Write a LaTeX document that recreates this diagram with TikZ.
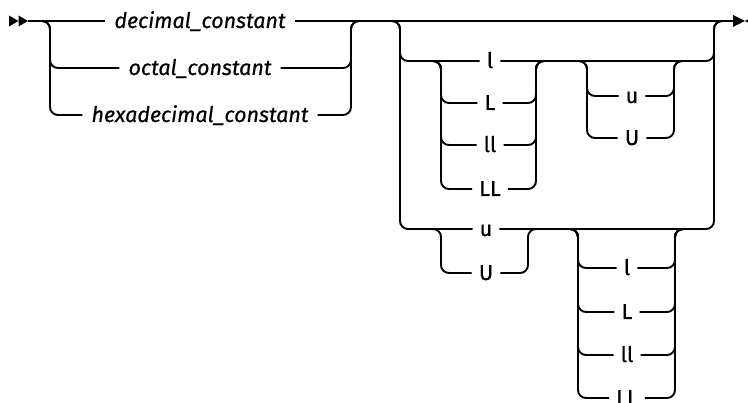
\documentclass[tikz,border=0pt]{standalone}
\usepackage{fontspec}
\setmainfont{Fira Sans}[FakeBold=0.6]
\begin{document}
\begin{tikzpicture}[x=1pt,y=-1pt,
  rail/.style={line width=1.9pt, rounded corners=8pt},
  lbl/.style={font=\fontsize{21.5}{25}\selectfont, inner xsep=7pt, inner ysep=0pt, text height=14pt, text depth=0pt},
  ilbl/.style={lbl, font=\fontsize{21.5}{25}\selectfont\itshape, inner xsep=9pt}]
\clip (0,0) rectangle (748,403);
% start and end markers
\fill (9,15.5) -- (18.5,21) -- (9,26.5) -- cycle;
\fill (18.5,15.5) -- (28,21) -- (18.5,26.5) -- cycle;
\fill (733,15) -- (745,21) -- (733,27) -- cycle;
\fill (756,15) -- (745,21) -- (756,27) -- cycle;
\coordinate (start) at (28,21);
\coordinate (end) at (733,21);
% junctions
\coordinate (aL) at (50,21);  \coordinate (aR) at (351,21);
\coordinate (bL) at (400,21); \coordinate (bR) at (714,21);
\coordinate (cL) at (441,61); \coordinate (cR) at (536,61);
\coordinate (dL) at (587,61); \coordinate (dR) at (674,61);
\coordinate (eL) at (441,229); \coordinate (eR) at (528,229);
\coordinate (fL) at (578,229); \coordinate (fR) at (675,229);
% labels
\node[ilbl] (dec) at (200,21) {decimal\_constant\hspace{7pt}};
\node[ilbl] (oct) at (200,68) {octal\_constant\hspace{7pt}};
\node[ilbl] (hex) at (200,115) {hexadecimal\_constant\hspace{7pt}};
\node[lbl] (l1) at (490,61) {l};
\node[lbl] (L1) at (490,103) {L};
\node[lbl] (ll1) at (490,145) {ll};
\node[lbl] (LL1) at (490,189) {LL};
\node[lbl] (u1) at (632,96) {u};
\node[lbl] (U1) at (632,138) {U};
\node[lbl] (u2) at (486,229) {u};
\node[lbl] (U2) at (486,273) {U};
\node[lbl] (l2) at (627,268) {l};
\node[lbl] (L2) at (627,312) {L};
\node[lbl] (ll2) at (627,355) {ll};
\node[lbl] (LL2) at (627,398) {LL};
% main line
\draw[rail] (start) -- (dec.west);
\draw[rail] (dec.east) -- (end);
% group A
\foreach \n in {oct,hex}{
  \draw[rail] ([xshift=-8pt]aL) -- (aL) |- (\n.west);
  \draw[rail] (\n.east) -| (aR) -- ([xshift=8pt]aR);
}
% outer group
\foreach \n in {l1,u2}{
  \draw[rail] ([xshift=-8pt]bL) -- (bL) |- (\n.west);
  \draw[rail] (\n.east) -| (bR) -- ([xshift=8pt]bR);
}
% l group 1
\foreach \n in {L1,ll1,LL1}{
  \draw[rail] ([xshift=-8pt]cL) -- (cL) |- (\n.west);
  \draw[rail] (\n.east) -| (cR) -- ([xshift=8pt]cR);
}
% u group 1
\foreach \n in {u1,U1}{
  \draw[rail] ([xshift=-8pt]dL) -- (dL) |- (\n.west);
  \draw[rail] (\n.east) -| (dR) -- ([xshift=8pt]dR);
}
% u group 2
\foreach \n in {U2}{
  \draw[rail] ([xshift=-8pt]eL) -- (eL) |- (\n.west);
  \draw[rail] (\n.east) -| (eR) -- ([xshift=8pt]eR);
}
% l group 2
\foreach \n in {l2,L2,ll2,LL2}{
  \draw[rail] ([xshift=-8pt]fL) -- (fL) |- (\n.west);
  \draw[rail] (\n.east) -| (fR) -- ([xshift=8pt]fR);
}
\end{tikzpicture}
\end{document}
